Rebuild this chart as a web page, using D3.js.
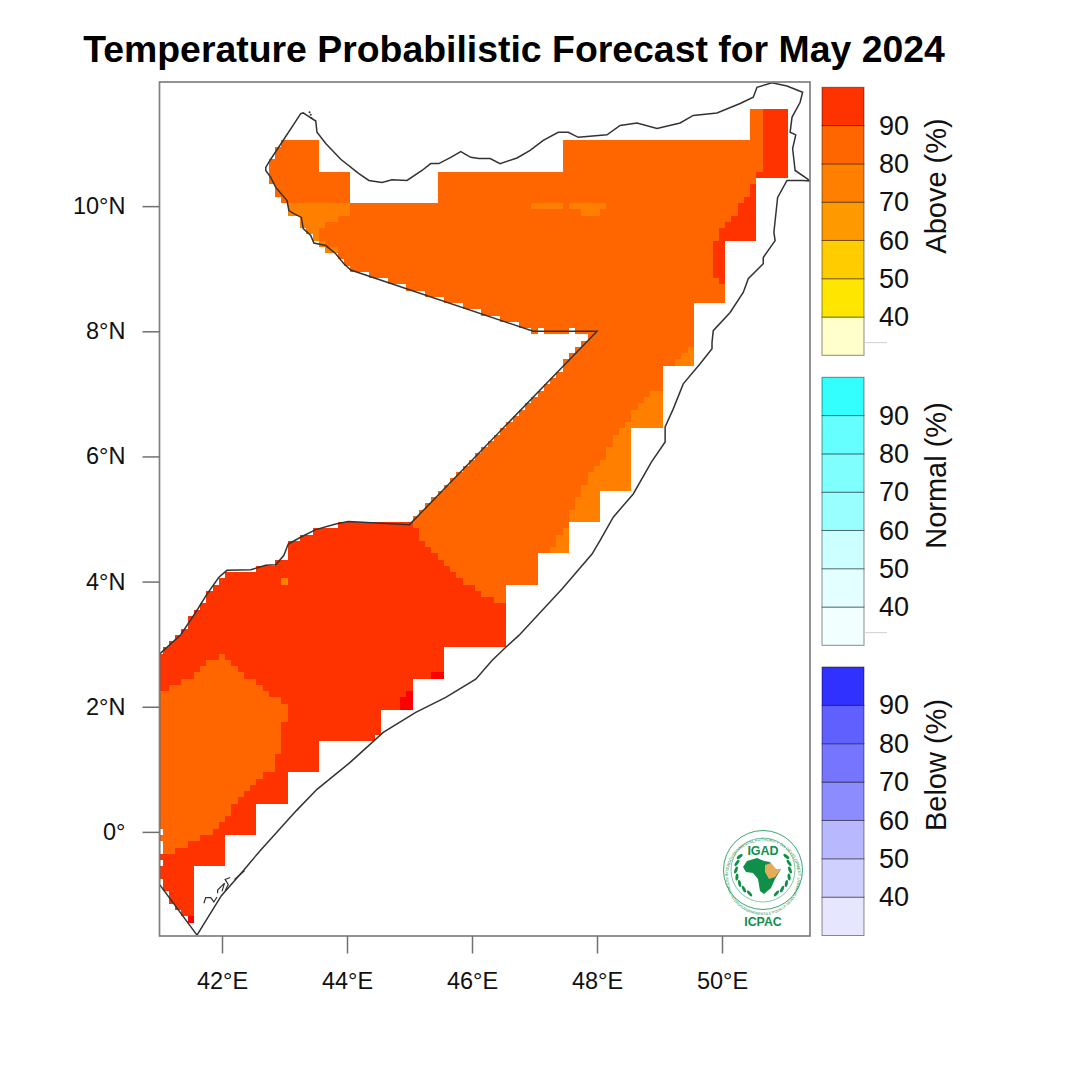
<!DOCTYPE html>
<html>
<head>
<meta charset="utf-8">
<script src="https://cdn.jsdelivr.net/npm/d3@7"></script>
<style>
  html, body { margin: 0; padding: 0; background: #fff; }
  text { font-family: "Liberation Sans", Arial, sans-serif; }
</style>
</head>
<body>
<div id="chart"></div>
<script>
// grid rows: [north row lat, south row lat, west edge lon, east edge lon], 0.1 degree cells
const above80Rows = [
  [11.5, 11.1, 50.45, 50.65],
  [11.0, 11.0, 42.95, 43.55], [10.9, 10.8, 42.85, 43.55], [10.7, 10.6, 42.75, 43.55],
  [10.5, 10.4, 42.75, 44.05], [10.3, 10.2, 42.85, 44.05], [10.1, 10.1, 42.95, 44.05],
  [11.0, 10.6, 47.45, 50.65], [10.5, 10.5, 45.45, 50.55], [10.4, 10.1, 45.45, 50.55],
  [10.0, 9.9, 43.05, 50.55], [9.8, 9.7, 43.25, 50.55], [9.6, 9.6, 43.35, 50.55], [9.5, 9.5, 43.45, 50.55],
  [9.4, 9.4, 43.55, 50.05], [9.3, 9.3, 43.65, 50.05], [9.2, 9.2, 43.85, 50.05], [9.1, 9.1, 43.95, 50.05],
  [9.0, 9.0, 44.05, 50.05], [8.9, 8.9, 44.35, 50.05], [8.8, 8.8, 44.65, 50.05], [8.7, 8.7, 44.95, 50.05],
  [8.6, 8.6, 45.25, 50.05], [8.5, 8.5, 45.55, 50.05], [8.4, 8.4, 45.85, 49.55], [8.3, 8.3, 46.15, 49.55],
  [8.2, 8.2, 46.45, 49.55], [8.1, 8.1, 46.75, 49.55],
  [8.0, 8.0, 46.95, 47.05], [8.0, 8.0, 47.15, 47.55], [8.0, 8.0, 47.65, 49.55],
  [7.9, 7.9, 47.85, 49.55], [7.8, 7.8, 47.75, 49.55], [7.7, 7.7, 47.65, 49.55], [7.6, 7.6, 47.55, 49.55],
  [7.5, 7.5, 47.45, 49.55],
  [7.4, 7.4, 47.45, 49.05], [7.3, 7.3, 47.35, 49.05], [7.2, 7.2, 47.25, 49.05], [7.1, 7.1, 47.15, 49.05],
  [7.0, 7.0, 47.05, 49.05], [6.9, 6.9, 46.95, 49.05], [6.8, 6.8, 46.85, 49.05], [6.7, 6.7, 46.75, 49.05],
  [6.6, 6.6, 46.65, 49.05], [6.5, 6.5, 46.55, 49.05],
  [6.4, 6.4, 46.45, 48.55], [6.3, 6.3, 46.35, 48.55], [6.2, 6.2, 46.25, 48.55], [6.1, 6.1, 46.15, 48.55],
  [6.0, 6.0, 46.05, 48.55], [5.9, 5.9, 45.95, 48.55], [5.8, 5.8, 45.85, 48.55], [5.7, 5.7, 45.75, 48.55],
  [5.6, 5.6, 45.65, 48.55], [5.5, 5.5, 45.55, 48.55],
  [5.4, 5.4, 45.45, 48.05], [5.3, 5.3, 45.35, 48.05], [5.2, 5.2, 45.25, 48.05], [5.1, 5.1, 45.15, 48.05],
  [5.0, 5.0, 45.05, 48.05],
  [4.9, 4.9, 45.05, 47.55], [4.8, 4.7, 45.15, 47.55], [4.6, 4.6, 45.25, 47.55], [4.5, 4.5, 45.35, 47.55],
  [4.4, 4.4, 45.45, 47.05], [4.3, 4.3, 45.55, 47.05], [4.2, 4.2, 45.65, 47.05], [4.1, 4.1, 45.75, 47.05],
  [4.0, 4.0, 45.85, 47.05],
  [3.9, 3.9, 46.05, 46.55], [3.8, 3.8, 46.15, 46.55], [3.7, 3.7, 46.35, 46.55]
];
const above90Rows = [
  [11.5, 10.6, 50.65, 51.05], [10.5, 10.5, 50.55, 51.05], [10.3, 10.2, 50.45, 50.55], [10.1, 10.1, 50.35, 50.55],
  [10.0, 9.9, 50.25, 50.55], [9.8, 9.8, 50.15, 50.55], [9.7, 9.7, 50.05, 50.55], [9.6, 9.5, 49.95, 50.55],
  [9.4, 8.9, 49.85, 50.05], [8.8, 8.8, 49.95, 50.05],
  [4.9, 4.9, 43.85, 45.05], [4.8, 4.8, 43.45, 45.15], [4.7, 4.7, 43.25, 45.15], [4.6, 4.6, 43.05, 45.25],
  [4.5, 4.5, 43.05, 45.35], [4.4, 4.4, 43.05, 45.45], [4.3, 4.3, 42.85, 45.55], [4.2, 4.2, 42.55, 45.65],
  [4.1, 4.1, 42.05, 45.75], [4.0, 4.0, 41.95, 45.85], [3.9, 3.9, 41.85, 46.05], [3.8, 3.8, 41.75, 46.15],
  [3.7, 3.7, 41.75, 46.35], [3.6, 3.6, 41.65, 46.55], [3.5, 3.5, 41.55, 46.55], [3.4, 3.3, 41.45, 46.55],
  [3.2, 3.2, 41.35, 46.55], [3.1, 3.1, 41.25, 46.55], [3.0, 3.0, 41.15, 46.55], [2.9, 2.9, 41.05, 45.55],
  [2.8, 2.5, 41.0, 45.55],
  [2.4, 2.0, 41.0, 45.05], [1.9, 1.6, 41.0, 44.55], [1.5, 1.5, 41.0, 44.45], [1.4, 1.0, 41.0, 43.55],
  [0.9, 0.5, 41.0, 43.05], [0.4, 0.1, 41.0, 42.55], [0.0, 0.0, 41.05, 42.55], [-0.1, -0.1, 41.0, 42.05],
  [-0.2, -0.3, 41.05, 42.05], [-0.4, -0.4, 41.0, 42.05], [-0.5, -0.5, 41.05, 42.05], [-0.6, -0.7, 41.0, 41.55],
  [-0.8, -0.9, 41.05, 41.55], [-1.0, -1.1, 41.15, 41.55], [-1.2, -1.2, 41.25, 41.55], [-1.3, -1.3, 41.35, 41.55],
  [-1.4, -1.4, 41.45, 41.55]
];
const inland80Rows = [
  [2.8, 2.8, 41.95, 42.05], [2.7, 2.7, 41.75, 42.15], [2.6, 2.6, 41.65, 42.25], [2.5, 2.5, 41.55, 42.35],
  [2.4, 2.4, 41.35, 42.55], [2.3, 2.3, 41.15, 42.65], [2.2, 2.2, 41.0, 42.75], [2.1, 2.1, 41.0, 42.95],
  [2.0, 1.8, 41.0, 43.05], [1.7, 1.3, 41.0, 42.95], [1.2, 1.0, 41.0, 42.85], [0.9, 0.9, 41.0, 42.65],
  [0.8, 0.8, 41.0, 42.55], [0.7, 0.7, 41.0, 42.45], [0.6, 0.6, 41.0, 42.35], [0.5, 0.5, 41.0, 42.25],
  [0.4, 0.3, 41.0, 42.15], [0.2, 0.2, 41.0, 42.05], [0.1, 0.1, 41.0, 41.95], [0.0, 0.0, 41.05, 41.85],
  [-0.1, -0.1, 41.0, 41.65], [-0.2, -0.2, 41.05, 41.45], [-0.3, -0.3, 41.05, 41.25]
];
const above70Rows = [
  [10.0, 9.9, 43.05, 44.05], [9.8, 9.8, 43.25, 43.85], [9.7, 9.7, 43.25, 43.65], [9.6, 9.6, 43.35, 43.55],
  [9.5, 9.5, 43.45, 43.55], [9.4, 9.4, 43.55, 43.65], [9.3, 9.3, 43.65, 43.85],
  [10.0, 10.0, 46.95, 47.45], [10.0, 10.0, 47.55, 48.15], [9.9, 9.9, 47.75, 48.05],
  [7.7, 7.7, 49.45, 49.55], [7.6, 7.6, 49.35, 49.55], [7.5, 7.5, 49.25, 49.55],
  [7.0, 7.0, 48.85, 49.05], [6.9, 6.9, 48.75, 49.05], [6.8, 6.8, 48.65, 49.05], [6.7, 6.6, 48.55, 49.05],
  [6.5, 6.5, 48.45, 49.05], [6.4, 6.4, 48.35, 48.55], [6.3, 6.2, 48.25, 48.55], [6.1, 6.0, 48.15, 48.55],
  [5.9, 5.9, 48.05, 48.55], [5.8, 5.8, 47.95, 48.55], [5.7, 5.6, 47.85, 48.55], [5.5, 5.5, 47.75, 48.55],
  [5.4, 5.4, 47.75, 48.05], [5.3, 5.2, 47.65, 48.05], [5.1, 5.0, 47.55, 48.05],
  [4.8, 4.8, 47.45, 47.55], [4.7, 4.6, 47.35, 47.55], [4.5, 4.5, 47.25, 47.55],
  [4.0, 4.0, 42.95, 43.05]
];
const peakRows = [
  [2.5, 2.5, 45.35, 45.55], [2.2, 2.2, 44.95, 45.05], [2.1, 2.0, 44.85, 45.05], [-1.4, -1.4, 41.45, 41.55]
];

// border, [lon, lat]
const borderPoints = [
  [41.60,-1.65],[41.0,-0.84],[41.0,2.84],[41.34,3.15],[41.58,3.51],[41.76,3.80],[41.95,4.07],[42.08,4.18],
  [42.46,4.19],[42.70,4.26],[42.86,4.27],[42.99,4.42],[43.06,4.60],[43.28,4.72],[43.50,4.83],[43.82,4.92],
  [44.02,4.96],[45.00,4.91],[48.0,8.0],[46.98,8.0],[44.06,8.98],[43.95,9.08],[43.82,9.24],[43.66,9.37],
  [43.47,9.41],[43.42,9.53],[43.30,9.64],[43.27,9.82],[43.15,9.88],[43.07,9.93],[43.04,10.09],[42.86,10.30],
  [42.78,10.46],[42.70,10.57],[42.70,10.62],[42.78,10.75],[43.26,11.48],[43.30,11.49],[43.36,11.45],[43.50,11.36],
  [43.52,11.18],[43.66,11.0],[43.90,10.75],[44.19,10.52],[44.35,10.41],[44.56,10.38],[44.72,10.42],[44.96,10.41],
  [45.20,10.57],[45.34,10.68],[45.47,10.68],[45.66,10.78],[45.82,10.87],[45.98,10.78],[46.11,10.76],[46.29,10.76],
  [46.45,10.68],[46.72,10.77],[46.93,10.89],[47.14,11.05],[47.38,11.18],[47.54,11.18],[47.70,11.10],[48.16,11.14],
  [48.37,11.29],[48.64,11.33],[48.96,11.24],[49.33,11.33],[49.54,11.45],[49.92,11.49],[50.29,11.64],[50.50,11.74],
  [50.56,11.90],[50.80,11.97],[51.04,11.92],[51.29,11.82],[51.25,11.66],[51.12,11.42],[51.09,11.18],[51.18,11.14],
  [51.13,10.92],[51.17,10.57],[51.36,10.44],[51.41,10.40],[51.30,10.41],[51.04,10.41],[50.89,10.14],[50.83,9.58],
  [50.85,9.45],[50.66,9.18],[50.66,9.08],[50.42,8.84],[50.34,8.62],[50.13,8.30],[49.86,8.01],[49.84,7.82],
  [49.84,7.72],[49.65,7.48],[49.38,7.16],[49.22,6.76],[49.09,6.47],[49.09,6.23],[48.87,5.91],[48.58,5.40],
  [48.26,5.03],[48.05,4.66],[47.92,4.44],[47.44,3.88],[46.75,3.14],[46.54,2.95],[46.32,2.74],[46.06,2.44],
  [45.58,2.15],[45.10,1.91],[44.58,1.59],[44.05,1.11],[43.52,0.68],[43.19,0.34],[42.61,-0.30],[42.34,-0.62],
  [42.13,-0.86],[41.99,-1.02],[41.60,-1.65]
];
const islandLines = [
  [[41.71,-1.14],[41.74,-1.05],[41.82,-1.05],[41.87,-1.12],[41.92,-1.04]],
  [[41.93,-0.98],[41.93,-0.93],[42.04,-0.82],[42.00,-0.95]],
  [[42.13,-0.73],[42.05,-0.76],[42.10,-0.84],[42.05,-0.94]],
  [[42.20,-0.76],[42.36,-0.62]]
];
const isletPoints = [[43.40,11.50],[43.42,11.46],[43.43,11.41]];

const lonTicks = [42, 44, 46, 48, 50];
const latTicks = [0, 2, 4, 6, 8, 10];
const legendTicks = [40, 50, 60, 70, 80, 90];
const legendBreaks = [30, 40, 50, 60, 70, 80, 90, 100];
const aboveColors = ["#ffffcc", "#ffe600", "#ffcc00", "#ff9900", "#ff7f00", "#ff6600", "#ff3300"];
const normalColors = ["#f2ffff", "#e3ffff", "#ccffff", "#99ffff", "#80ffff", "#66ffff", "#33ffff"];
const belowColors = ["#e6e6ff", "#d0d0ff", "#b8b8ff", "#8c8cff", "#7575ff", "#6060ff", "#3030ff"];

const w = 1066, h = 1071;
const margin = { left: 159.5, right: 810, top: 82, bottom: 936 };

const svg = d3.select("#chart").append("svg")
  .attr("width", w)
  .attr("height", h)
  .style("display", "block");

const xScale = d3.scaleLinear().domain([41, 51.408]).range([margin.left, margin.right]);
const yScale = d3.scaleLinear().domain([-1.664, 11.984]).range([margin.bottom, margin.top]);

svg.append("text")
  .attr("x", 514)
  .attr("y", 62)
  .attr("text-anchor", "middle")
  .attr("font-size", 37.4)
  .attr("font-weight", "bold")
  .attr("fill", "#000")
  .text("Temperature Probabilistic Forecast for May 2024");

svg.append("clipPath").attr("id", "plotClip").append("rect")
  .attr("x", margin.left).attr("y", margin.top)
  .attr("width", margin.right - margin.left).attr("height", margin.bottom - margin.top);

const map = svg.append("g").attr("clip-path", "url(#plotClip)");

const drawRows = (rows, color) => {
  map.append("g").attr("fill", color).attr("shape-rendering", "crispEdges")
    .selectAll("rect")
    .data(rows)
    .join("rect")
    .attr("x", (d) => xScale(d[2]))
    .attr("y", (d) => yScale(d[0] + 0.05))
    .attr("width", (d) => xScale(d[3]) - xScale(d[2]))
    .attr("height", (d) => yScale(d[1] - 0.05) - yScale(d[0] + 0.05));
};
drawRows(above80Rows, "#ff6600");
drawRows(above90Rows, "#ff3300");
drawRows(inland80Rows, "#ff6600");
drawRows(above70Rows, "#ff7f00");
drawRows(peakRows, "#ff0000");

const line = d3.line().x((d) => xScale(d[0])).y((d) => yScale(d[1]));
map.append("path")
  .datum(borderPoints)
  .attr("fill", "none")
  .attr("stroke", "#333")
  .attr("stroke-width", 1.5)
  .attr("d", line);
map.selectAll(".island")
  .data(islandLines)
  .join("path")
  .attr("class", "island")
  .attr("fill", "none")
  .attr("stroke", "#333")
  .attr("stroke-width", 1.2)
  .attr("d", line);
map.selectAll(".islet")
  .data(isletPoints)
  .join("circle")
  .attr("class", "islet")
  .attr("cx", (d) => xScale(d[0]))
  .attr("cy", (d) => yScale(d[1]))
  .attr("r", 1)
  .attr("fill", "#333");

// frame and axes
svg.append("rect")
  .attr("x", margin.left).attr("y", margin.top)
  .attr("width", margin.right - margin.left).attr("height", margin.bottom - margin.top)
  .attr("fill", "none")
  .attr("stroke", "#808080")
  .attr("stroke-width", 1.7);

const xAxis = svg.append("g")
  .attr("transform", `translate(0, ${margin.bottom})`)
  .call(d3.axisBottom(xScale).tickValues(lonTicks).tickSize(17.5).tickPadding(18.5).tickFormat((d) => `${d}°E`));
const yAxis = svg.append("g")
  .attr("transform", `translate(${margin.left}, 0)`)
  .call(d3.axisLeft(yScale).tickValues(latTicks).tickSize(17).tickPadding(17).tickFormat((d) => d === 0 ? "0°" : `${d}°N`));

[xAxis, yAxis].forEach((a) => {
  a.select(".domain").remove();
  a.selectAll("line").attr("stroke", "#707070").attr("stroke-width", 1.5);
  a.selectAll("text")
    .attr("font-size", 23.5)
    .attr("font-family", '"Liberation Sans", Arial, sans-serif')
    .attr("fill", "#111");
});

// colour bars
const buildLegend = (top, bottom, colors, title, titleY, smudge) => {
  const scale = d3.scaleLinear().domain([30, 100]).range([bottom, top]);
  const bar = svg.append("g");
  bar.selectAll("rect")
    .data(d3.pairs(legendBreaks))
    .join("rect")
    .attr("x", 822)
    .attr("width", 42)
    .attr("y", (d) => scale(d[1]))
    .attr("height", (d) => scale(d[0]) - scale(d[1]))
    .attr("fill", (d, i) => colors[i])
    .attr("stroke", "#000")
    .attr("stroke-opacity", 0.45)
    .attr("stroke-width", 1);
  // faint unreadable mark beside the lowest box
  if (smudge) {
    svg.append("line")
      .attr("x1", 865).attr("x2", 887)
      .attr("y1", scale(33.3)).attr("y2", scale(33.3))
      .attr("stroke", "#d0d0d0");
  }
  const axis = svg.append("g")
    .attr("transform", "translate(864, 0)")
    .call(d3.axisRight(scale).tickValues(legendTicks).tickSize(0).tickPadding(15));
  axis.select(".domain").remove();
  axis.selectAll("text")
    .attr("font-size", 27)
    .attr("font-family", '"Liberation Sans", Arial, sans-serif')
    .attr("fill", "#111");
  svg.append("text")
    .attr("transform", `translate(946, ${titleY}) rotate(-90)`)
    .attr("text-anchor", "middle")
    .attr("font-size", 29)
    .attr("fill", "#111")
    .text(title);
};
buildLegend(87.3, 355.3, aboveColors, "Above (%)", 186, true);
buildLegend(377.3, 645.3, normalColors, "Normal (%)", 475.5, true);
buildLegend(667, 935.5, belowColors, "Below (%)", 765, false);

// logo
const green = "#0f8f4a";
const logo = svg.append("g").attr("transform", "translate(763, 870)");
logo.append("circle").attr("r", 39.5).attr("fill", "#fff").attr("stroke", green).attr("stroke-width", 0.8);
logo.append("circle").attr("r", 32).attr("fill", "none").attr("stroke", green).attr("stroke-width", 0.5);
logo.append("path").attr("id", "logoTop").attr("fill", "none").attr("d", "M -35 6 A 35 35 0 0 1 35 6");
logo.append("path").attr("id", "logoBottom").attr("fill", "none").attr("d", "M -37 8 A 37 37 0 0 0 37 8");
logo.append("text").attr("font-size", 4.1).attr("fill", green).attr("text-anchor", "middle")
  .append("textPath").attr("href", "#logoTop").attr("startOffset", "50%")
  .text("INTERGOVERNMENTAL AUTHORITY ON DEVELOPMENT");
logo.append("text").attr("font-size", 3.6).attr("fill", green).attr("text-anchor", "middle")
  .append("textPath").attr("href", "#logoBottom").attr("startOffset", "50%")
  .text("AUTORITE INTERGOUVERNEMENTALE POUR LE DEVELOPPEMENT");
logo.append("text").attr("y", -15).attr("text-anchor", "middle").attr("font-size", 12.5).attr("font-weight", "bold").attr("fill", green).text("IGAD");
logo.append("text").attr("y", 56).attr("text-anchor", "middle").attr("font-size", 12.4).attr("font-weight", "bold").attr("fill", green).text("ICPAC");
// africa
logo.append("path").attr("fill", green)
  .attr("d", "M -16 -9 L -6 -12 L 1 -9 L 7 -8 L 12 -1 L 18 -1 L 12 9 L 8 18 L 1 24 L -3 21 L -5 9 L -10 3 L -17 2 L -20 -3 Z");
logo.append("path").attr("fill", "#e6ac5c")
  .attr("d", "M 2 -5 L 8 -7 L 13 -1 L 18 -1 L 12 7 L 6 9 L 2 2 Z");
// laurel leaves
[-1, 1].forEach((side) => {
  d3.range(7).forEach((i) => {
    const a = (i * 15 - 30) * Math.PI / 180;
    logo.append("ellipse")
      .attr("rx", 1.5).attr("ry", 3.6)
      .attr("fill", green)
      .attr("transform", `translate(${side * 27 * Math.cos(a)}, ${27 * Math.sin(a)}) rotate(${side * (i * 15 - 50)})`);
  });
});
</script>
</body>
</html>
